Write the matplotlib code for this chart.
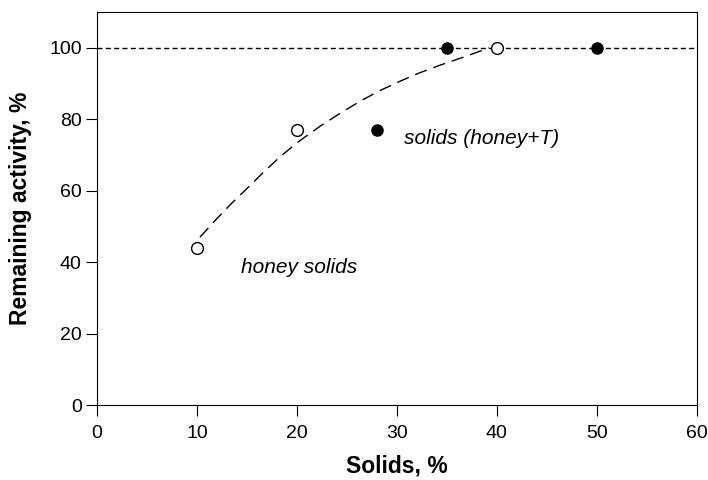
import numpy as np
import matplotlib.pyplot as plt

plt.rcParams['font.family'] = ['Liberation Sans', 'DejaVu Sans']

# measured data
honey_x = [10, 20, 40]
honey_y = [44, 77, 100]
mix_x = [28, 35, 50]
mix_y = [77, 100, 100]

# dashed trend line
fit_x = [10.3, 11.8, 13.3, 15.0, 16.6, 18.4, 20.3, 22.3, 24.3, 26.3, 28.3, 30.3, 32.3, 34.4, 36.6, 38.0, 39.2]
fit_y = [47, 51.6, 56, 60.6, 65, 69.7, 74, 78, 81.6, 85, 88, 90.6, 93, 95.2, 97.3, 98.7, 100]

fig = plt.figure(figsize=(7.08, 4.8), dpi=100)
plt.subplots_adjust(left=0.137, right=0.984, top=0.975, bottom=0.156)
ax = plt.subplot(1, 1, 1)

ax.axhline(100, color='black', lw=1, ls=(0, (3.6, 2.4)), zorder=1)
ax.plot(fit_x, fit_y, color='black', lw=1, ls=(0, (9, 5)), zorder=1)
ax.plot(honey_x, honey_y, 'o', ms=8.5, mfc='white', mec='black', mew=1, zorder=3)
ax.plot(mix_x, mix_y, 'o', ms=8, mfc='black', mec='black', zorder=3)

ax.text(30.7, 74.5, 'solids (honey+T)', fontsize=15, style='italic', va='center')
ax.text(14.4, 38.6, 'honey solids', fontsize=15, style='italic', va='center')

ax.set_xlim(0, 60)
ax.set_ylim(0, 110)
ax.set_xticks(range(0, 61, 10))
ax.set_yticks(range(0, 101, 20))
ax.tick_params(direction='out', length=8, labelsize=14)
ax.tick_params(axis='x', pad=6)
ax.tick_params(axis='y', pad=3)
ax.set_xlabel('Solids, %', fontsize=16.5, fontweight='bold', labelpad=9)
ax.set_ylabel('Remaining activity, %', fontsize=16.5, fontweight='bold', labelpad=12)

plt.savefig('out.png', dpi=100)
